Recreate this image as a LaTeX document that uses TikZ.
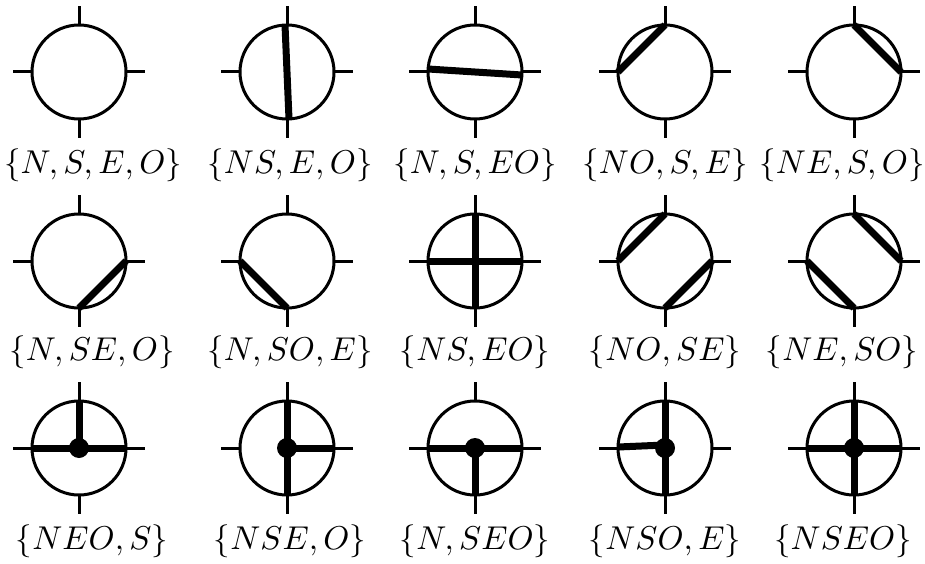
\documentclass[tikz,border=0pt]{standalone}
\begin{document}
\begin{tikzpicture}[x=1pt,y=-1pt,
  ring/.style={draw, circle, minimum size=94pt, inner sep=0pt, outer sep=0pt, line width=3pt},
  stub/.style={line width=3pt},
  link/.style={line width=7pt},
  hub/.style={fill=black},
  lab/.style={inner sep=0pt}]
\useasboundingbox (0,0) rectangle (925,564);
\newcommand{\junc}[3]{%
  \node[ring] (#1) at (#2,#3) {};
  \draw[stub] (#1.north) -- ++(0,-19);
  \draw[stub] (#1.south) -- ++(0,19);
  \draw[stub] (#1.west) -- ++(-19,0);
  \draw[stub] (#1.east) -- ++(19,0);}
\newcommand{\lbl}[4]{\node[lab] (#1) at (#2,#3) {\scalebox{3.3}{$#4$}};}
% row 1
\junc{a1}{79}{72}
\junc{a2}{287}{72}
\junc{a3}{475}{72}
\junc{a4}{665}{72}
\junc{a5}{854}{72}
\draw[link] ([xshift=-2pt]a2.north) -- ([xshift=2pt]a2.south);
\draw[link] ([yshift=3pt]a3.west) -- ([yshift=-3pt]a3.east);
\draw[link] (a4.north) -- (a4.west);
\draw[link] (a5.north) -- (a5.east);
\lbl{t1}{93}{165}{\{N,S,E,O\}}
\lbl{t2}{290}{165}{\{NS,E,O\}}
\lbl{t3}{475}{165}{\{N,S,EO\}}
\lbl{t4}{665}{165}{\{NO,S,E\}}
\lbl{t5}{842}{165}{\{NE,S,O\}}
% row 2
\junc{b1}{79}{261}
\junc{b2}{287}{261}
\junc{b3}{475}{261}
\junc{b4}{665}{261}
\junc{b5}{854}{261}
\draw[link] (b1.south) -- (b1.east);
\draw[link] (b2.south) -- (b2.west);
\draw[link] (b3.north) -- (b3.south);
\draw[link] (b3.west) -- (b3.east);
\draw[link] (b4.north) -- (b4.west);
\draw[link] (b4.south) -- (b4.east);
\draw[link] (b5.north) -- (b5.east);
\draw[link] (b5.south) -- (b5.west);
\lbl{u1}{92}{352}{\{N,SE,O\}}
\lbl{u2}{290}{352}{\{N,SO,E\}}
\lbl{u3}{475}{352}{\{NS,EO\}}
\lbl{u4}{665}{352}{\{NO,SE\}}
\lbl{u5}{842}{352}{\{NE,SO\}}
% row 3
\junc{c1}{79}{448}
\junc{c2}{287}{448}
\junc{c3}{475}{448}
\junc{c4}{665}{448}
\junc{c5}{854}{448}
\draw[link] (c1.north) -- (c1.center);
\draw[link] (c1.west) -- (c1.east);
\fill[hub] (c1.center) circle[radius=10];
\draw[link] (c2.north) -- (c2.south);
\draw[link] (c2.center) -- (c2.east);
\fill[hub] (c2.center) circle[radius=10];
\draw[link] (c3.west) -- (c3.east);
\draw[link] (c3.center) -- (c3.south);
\fill[hub] (c3.center) circle[radius=10];
\draw[link] (c4.north) -- (c4.south);
\draw[link] ([yshift=1pt]c4.west) -- ([yshift=3pt]c4.center);
\fill[hub] (c4.center) circle[radius=10];
\draw[link] (c5.north) -- (c5.south);
\draw[link] (c5.west) -- (c5.east);
\fill[hub] (c5.center) circle[radius=10];
\lbl{v1}{92}{541}{\{NEO,S\}}
\lbl{v2}{290}{541}{\{NSE,O\}}
\lbl{v3}{475}{541}{\{N,SEO\}}
\lbl{v4}{665}{541}{\{NSO,E\}}
\lbl{v5}{843}{541}{\{NSEO\}}
\end{tikzpicture}
\end{document}
